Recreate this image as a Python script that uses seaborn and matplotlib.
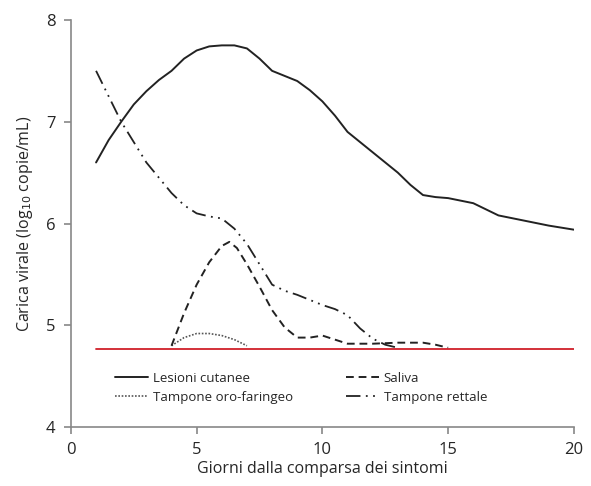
import numpy as np
import pandas as pd
import matplotlib
matplotlib.use('Agg')
import matplotlib.pyplot as plt
import seaborn as sns

# Values
giorni_lesioni = [1, 1.5, 2, 2.5, 3, 3.5, 4, 4.5, 5, 5.5, 6, 6.5, 7, 7.5, 8, 8.5, 9, 9.5, 10,
                  10.5, 11, 11.5, 12, 13, 13.5, 14, 14.5, 15, 16, 16.5, 17, 18, 19, 20]
lesioni = [6.6, 6.82, 7.0, 7.17, 7.3, 7.41, 7.5, 7.62, 7.7, 7.74, 7.75, 7.75, 7.72, 7.62,
           7.5, 7.45, 7.4, 7.31, 7.2, 7.06, 6.9, 6.8, 6.7, 6.5, 6.38, 6.28, 6.26, 6.25,
           6.2, 6.14, 6.08, 6.03, 5.98, 5.94]

giorni_saliva = [4, 4.5, 5, 5.5, 6, 6.3, 6.6, 7, 7.5, 8, 8.5, 9, 9.5, 10, 10.5, 11, 12,
                 13, 14, 14.5, 15]
saliva = [4.8, 5.12, 5.4, 5.62, 5.78, 5.82, 5.76, 5.6, 5.38, 5.15, 4.98, 4.88, 4.88, 4.9,
          4.86, 4.82, 4.82, 4.83, 4.83, 4.81, 4.78]

giorni_oro = [4, 4.5, 5, 5.5, 6, 6.5, 7]
oro = [4.8, 4.88, 4.92, 4.92, 4.9, 4.86, 4.8]

giorni_rettale = [1, 2, 3, 4, 4.5, 5, 5.5, 6, 6.5, 7, 7.5, 8, 8.5, 9, 10, 10.5, 11,
                  11.5, 12, 12.5, 13]
rettale = [7.5, 7.0, 6.6, 6.3, 6.18, 6.1, 6.07, 6.05, 5.95, 5.8, 5.6, 5.4, 5.34, 5.3, 5.2,
           5.16, 5.1, 4.97, 4.87, 4.81, 4.78]

soglia_x = [1, 20]
soglia = [4.77, 4.77]

sns.set_style('white')
plt.rcParams['font.family'] = ['Open Sans', 'DejaVu Sans']

fig = plt.figure(figsize=(5.91, 4.86), dpi=100)
ax = fig.add_axes([0.120, 0.121, 0.851, 0.838])

sns.lineplot(x=giorni_lesioni, y=lesioni, ax=ax, color='#222222', lw=1.4,
             label='Lesioni cutanee')
sns.lineplot(x=giorni_oro, y=oro, ax=ax, color='#555555', lw=1.2,
             linestyle=(0, (1, 1)), label='Tampone oro-faringeo')
sns.lineplot(x=giorni_saliva, y=saliva, ax=ax, color='#222222', lw=1.4,
             linestyle=(0, (4, 2.5)), label='Saliva')
sns.lineplot(x=giorni_rettale, y=rettale, ax=ax, color='#222222', lw=1.3,
             linestyle=(0, (8, 3, 1, 3, 1, 3)), label='Tampone rettale')
sns.lineplot(x=soglia_x, y=soglia, ax=ax, color='#d0202a', lw=1.3, legend=False)

ax.set_xlim(0, 20)
ax.set_ylim(4, 8)
ax.set_xticks([0, 5, 10, 15, 20])
ax.set_yticks([4, 5, 6, 7, 8])
ax.set_xlabel('Giorni dalla comparsa dei sintomi', fontsize=11.5, labelpad=2)
ax.set_ylabel('Carica virale (log$_{10}$ copie/mL)', fontsize=11.5, labelpad=8)

for s in ['top', 'right']:
    ax.spines[s].set_visible(False)
for s in ['left', 'bottom']:
    ax.spines[s].set_color('#888888')
    ax.spines[s].set_linewidth(1.2)
ax.tick_params(axis='both', direction='out', length=5, width=1.2, color='#888888',
               labelsize=12, pad=6, left=True, bottom=True)

ax.legend(ncol=2, frameon=False, fontsize=9.5, loc='upper left',
          bbox_to_anchor=(0.065, 0.165), handlelength=2.5, columnspacing=4.0,
          handletextpad=0.35, labelspacing=0.45)

fig.savefig('out.png', dpi=100)
